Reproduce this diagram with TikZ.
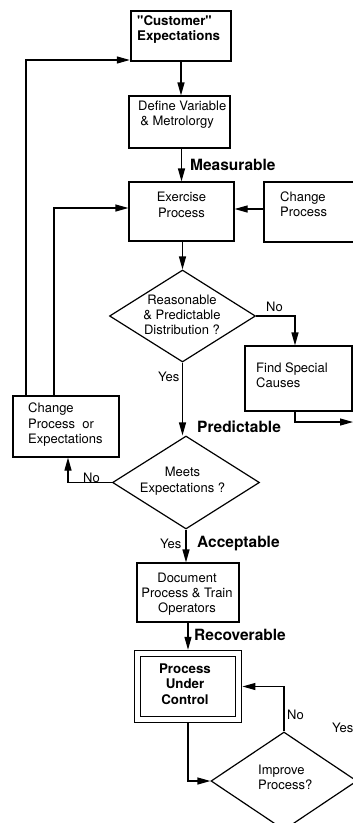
\documentclass[tikz,border=0pt]{standalone}
\usepackage{fontspec}
\setmainfont{TeX Gyre Heros}
\newfontfamily\qfont{TeX Gyre Heros}
\usetikzlibrary{arrows.meta,shapes.geometric}
\begin{document}
\begin{tikzpicture}[x=1pt,y=-1pt,
  box/.style={draw, line width=1.2pt, rectangle, inner sep=0pt},
  dia/.style={draw, line width=1.2pt, diamond, inner sep=0pt},
  txt/.style={inner sep=0pt, font=\fontsize{13}{15.3}\selectfont},
  btxt/.style={inner sep=0pt, font=\fontsize{13.3}{15.3}\selectfont\bfseries},
  lbl/.style={inner sep=0pt, font=\fontsize{15.5}{18}\selectfont\bfseries, anchor=base west},
  yn/.style={inner sep=0pt, font=\fontsize{13}{15}\selectfont, anchor=base west},
  arr/.style={line width=1.2pt, -{Triangle[length=13pt,width=7pt]}}
]
\useasboundingbox (0,0) rectangle (353,823);
\clip (0,0) rectangle (353,823);

% boxes
\node[box, line width=2.4pt, minimum width=100pt, minimum height=50pt] (cust) at (181,36) {};
\node[btxt, anchor=west, align=left] (custT) at (137,29.2) {{\qfont\bfseries "}Customer{\qfont\bfseries "}\\Expectations};

\node[box, minimum width=101pt, minimum height=52pt] (def) at (179.5,122) {};
\node[txt, anchor=west, align=left] (defT) at (138,114.5) {Define Variable\\\,\& Metrolorgy};

\node[box, minimum width=105pt, minimum height=59pt] (exer) at (181.5,211.5) {};
\node[txt, align=center] (exerT) at (181.5,205) {Exercise\\Process};

\node[box, minimum width=116pt, minimum height=60pt] (chg) at (322,212) {};
\node[txt, anchor=west, align=left] (chgT) at (280,204) {Change\\Process};

\node[dia, minimum width=146pt, minimum height=92pt] (d1) at (182.5,316) {};
\node[txt, align=center] (d1T) at (182,314.8) {Reasonable\\\& Predictable\\Distribution ?};

\node[box, minimum width=107pt, minimum height=65pt] (fsc) at (298.5,378.5) {};
\node[txt, anchor=west, align=left] (fscT) at (256,375.3) {Find Special\\Causes};
\coordinate (fscout) at (353,422);

\node[box, minimum width=106pt, minimum height=61pt] (cpe) at (66,426.5) {};
\node[txt, anchor=west, align=left] (cpeT) at (28,424.6) {Change\\Process~ or\\Expectations};

\node[dia, minimum width=147pt, minimum height=93pt] (d2) at (186,482.5) {};
\node[txt, align=center] (d2T) at (182.5,481.1) {Meets\\Expectations ?};

\node[box, minimum width=102pt, minimum height=59pt] (doc) at (188,592.5) {};
\node[txt, align=center] (docT) at (187,594.1) {Document\\Process \& Train\\Operators};

\node[draw, line width=1.2pt, double, double distance=5pt, outer sep=3.7pt, inner sep=0pt,
      minimum width=101.5pt, minimum height=66pt] (puc) at (188,686.5) {};
\node[btxt, align=center] (pucT) at (185,684) {Process\\Under\\Control};

\node[dia, minimum width=146pt, minimum height=98pt] (d3) at (284,781) {};
\node[txt, anchor=west, align=left] (d3T) at (258,777.4) {Improve\\Process?};

% connectors
\draw[arr] (cust.south) -- (cust.south |- def.north);
\draw[arr] (def.south -| exer.north) -- (exer.north);
\draw[arr] (exer.south -| d1.north) -- (d1.north);
\draw[arr] ([yshift=3pt]chg.west) -- ([yshift=3pt]chg.west -| exer.east);
\draw[arr] ([xshift=-12pt]cpe.north) |- ([yshift=3.5pt]exer.west);
\draw[arr] ([xshift=-40pt]cpe.north) |- ([yshift=-24pt]cust.west);
\draw[arr] (d1.east) -| ([xshift=-3.5pt]fsc.north);
\draw[arr] ([xshift=-3.5pt]fsc.south) |- (fscout);
\draw[arr] (d1.south) -- (d1.south |- d2.north);
\draw[arr] (d2.west) -| ([xshift=2pt]cpe.south);
\draw[arr] (d2.south) -- (d2.south |- doc.north);
\draw[arr] (doc.south) -- (doc.south |- puc.north);
\draw[arr] (puc.south) |- (d3.west);
\draw[arr] (d3.north) |- (puc.east);

% labels
\node[lbl] (lMeas) at (190,170) {Measurable};
\node[lbl] (lPred) at (197,432) {Predictable};
\node[lbl] (lAcc) at (197,547.7) {Acceptable};
\node[lbl] (lRec) at (194,640) {Recoverable};
\node[yn] (y1) at (158,381) {Yes};
\node[yn] (n1) at (266,311.7) {No};
\node[yn] (n2) at (83,482) {No};
\node[yn] (y2) at (160,548) {Yes};
\node[yn] (n3) at (287,719) {No};
\node[yn] (y3) at (332,732.7) {Yes};
\end{tikzpicture}
\end{document}
